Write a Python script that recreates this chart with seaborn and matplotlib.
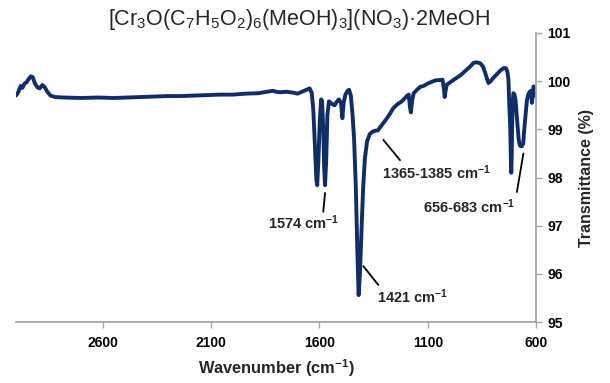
import matplotlib
matplotlib.use("Agg")
import matplotlib.pyplot as plt
import seaborn as sns
import pandas as pd

# IR spectrum
wavenumber = [3000, 2990, 2978, 2970, 2960, 2950, 2940, 2930, 2922, 2912, 2900, 2890, 2878, 2868,
              2855, 2840, 2820, 2780, 2700, 2620, 2550, 2480, 2420, 2360, 2300, 2240, 2180, 2120,
              2060, 2000, 1940, 1880, 1840, 1815, 1800, 1780, 1750, 1720, 1700, 1680, 1660, 1645,
              1635, 1628, 1620, 1614, 1610, 1605, 1598, 1592, 1588, 1582, 1578, 1574, 1569, 1563,
              1556, 1548, 1540, 1530, 1520, 1510, 1500, 1494, 1488, 1480, 1470, 1463, 1455, 1447,
              1440, 1432, 1425, 1419, 1413, 1405, 1398, 1390, 1380, 1368, 1355, 1343, 1330, 1318,
              1305, 1290, 1275, 1259, 1240, 1220, 1205, 1195, 1188, 1182, 1178, 1172, 1165, 1150,
              1135, 1120, 1100, 1085, 1074, 1060, 1045, 1032, 1026, 1022, 1018, 1012, 995, 980,
              966, 950, 935, 920, 905, 889, 875, 858, 845, 835, 827, 820, 810, 797, 780, 765, 751,
              740, 733, 728, 724, 720, 717, 715, 713, 711, 708, 705, 700, 695, 690, 686, 681, 677,
              672, 666, 660, 655, 648, 643, 637, 630, 624, 620, 616, 612, 608, 604, 600]
transmittance = [99.70, 99.76, 99.90, 99.86, 99.95, 99.98, 100.05, 100.10, 100.08, 99.95, 99.87, 99.85,
                 99.92, 99.88, 99.78, 99.70, 99.67, 99.66, 99.65, 99.66, 99.65, 99.66, 99.67, 99.68,
                 99.69, 99.69, 99.70, 99.71, 99.72, 99.72, 99.74, 99.75, 99.78, 99.80, 99.78, 99.77,
                 99.78, 99.76, 99.74, 99.78, 99.82, 99.85, 99.75, 99.40, 98.60, 97.95, 97.84, 98.30,
                 99.20, 99.62, 99.60, 99.00, 98.20, 97.84, 98.30, 99.30, 99.58, 99.55, 99.52, 99.50,
                 99.57, 99.62, 99.55, 99.23, 99.55, 99.72, 99.80, 99.82, 99.70, 99.30, 98.80, 97.80,
                 96.50, 95.56, 96.00, 97.00, 97.80, 98.40, 98.75, 98.90, 98.95, 98.97, 98.98, 99.05,
                 99.13, 99.22, 99.32, 99.44, 99.52, 99.58, 99.65, 99.70, 99.72, 99.45, 99.35, 99.60,
                 99.75, 99.82, 99.88, 99.90, 99.95, 99.98, 100.00, 100.02, 100.02, 100.03, 99.85,
                 99.67, 99.80, 99.93, 99.98, 100.03, 100.07, 100.12, 100.18, 100.24, 100.30, 100.38,
                 100.39, 100.37, 100.30, 100.17, 100.05, 99.96, 100.00, 100.07, 100.15, 100.22,
                 100.27, 100.27, 100.20, 100.03, 99.50, 99.07, 98.40, 98.10, 98.40, 99.07, 99.60,
                 99.75, 99.72, 99.60, 99.30, 99.07, 98.80, 98.69, 98.65, 98.65, 98.70, 99.00, 99.35,
                 99.59, 99.72, 99.78, 99.80, 99.55, 99.70, 99.89, 99.80, 99.70, 99.75]

x_ticks = [2600, 2100, 1600, 1100, 600]
y_ticks = [95, 96, 97, 98, 99, 100, 101]

# label text, text position, line start, line end
labels = [r"1574 cm$^{\mathbf{-1}}$", r"1421 cm$^{\mathbf{-1}}$",
          r"1365-1385 cm$^{\mathbf{-1}}$", r"656-683 cm$^{\mathbf{-1}}$"]
label_pos = [(1671, 97.07), (1170, 95.52), (1062, 98.09), (909, 97.39)]
line_from = [(1582, 97.29), (1328, 95.77), (1228, 98.36), (689, 97.70)]
line_to = [(1574, 97.68), (1397, 96.16), (1305, 98.78), (659, 98.50)]

df = pd.DataFrame({"wn": wavenumber, "T": transmittance})

sns.set_style("white")
plt.rcParams["font.family"] = ["Liberation Sans", "DejaVu Sans"]
plt.rcParams["mathtext.fontset"] = "custom"
plt.rcParams["mathtext.rm"] = "Liberation Sans"
plt.rcParams["mathtext.it"] = "Liberation Sans:italic"
plt.rcParams["mathtext.bf"] = "Liberation Sans:bold"

fig = plt.figure(figsize=(6.1, 3.83), dpi=100)
ax = fig.add_axes([0.026, 0.159, 0.853, 0.755])

sns.lineplot(data=df, x="wn", y="T", ax=ax, color="#0F2E69", linewidth=2.8)

ax.set_xlim(3000, 600)
ax.set_ylim(95, 101)
ax.set_xticks(x_ticks)
ax.set_yticks(y_ticks)

ax.yaxis.tick_right()
ax.yaxis.set_label_position("right")
for side in ["left", "top"]:
    ax.spines[side].set_visible(False)
for side in ["bottom", "right"]:
    ax.spines[side].set_color("#A6A6A6")
    ax.spines[side].set_linewidth(1.3)
ax.tick_params(axis="both", which="both", direction="out", length=4, width=1,
               color="#A6A6A6", labelsize=10, labelcolor="black")
ax.tick_params(axis="x", bottom=True, pad=6)
ax.tick_params(axis="y", right=True, left=False, pad=4)
for t in ax.get_xticklabels() + ax.get_yticklabels():
    t.set_fontweight("bold")

ax.set_xlabel(r"Wavenumber (cm$^{\mathbf{-1}}$)", fontsize=11.8, fontweight="bold", labelpad=5)
ax.set_ylabel("Transmittance (%)", fontsize=11.5, fontweight="bold", labelpad=6)

for text, pos, a, b in zip(labels, label_pos, line_from, line_to):
    ax.annotate("", xy=b, xytext=a,
                arrowprops=dict(arrowstyle="-", color="black", lw=1.3, shrinkA=0, shrinkB=0))
    ax.text(pos[0], pos[1], text, ha="center", va="center", fontsize=10.5, fontweight="bold")

fig.text(0.49, 0.948, r"[Cr$_3$O(C$_7$H$_5$O$_2$)$_6$(MeOH)$_3$](NO$_3$)·2MeOH",
         ha="center", va="center", fontsize=15.5)

fig.savefig("out.png", dpi=100)
